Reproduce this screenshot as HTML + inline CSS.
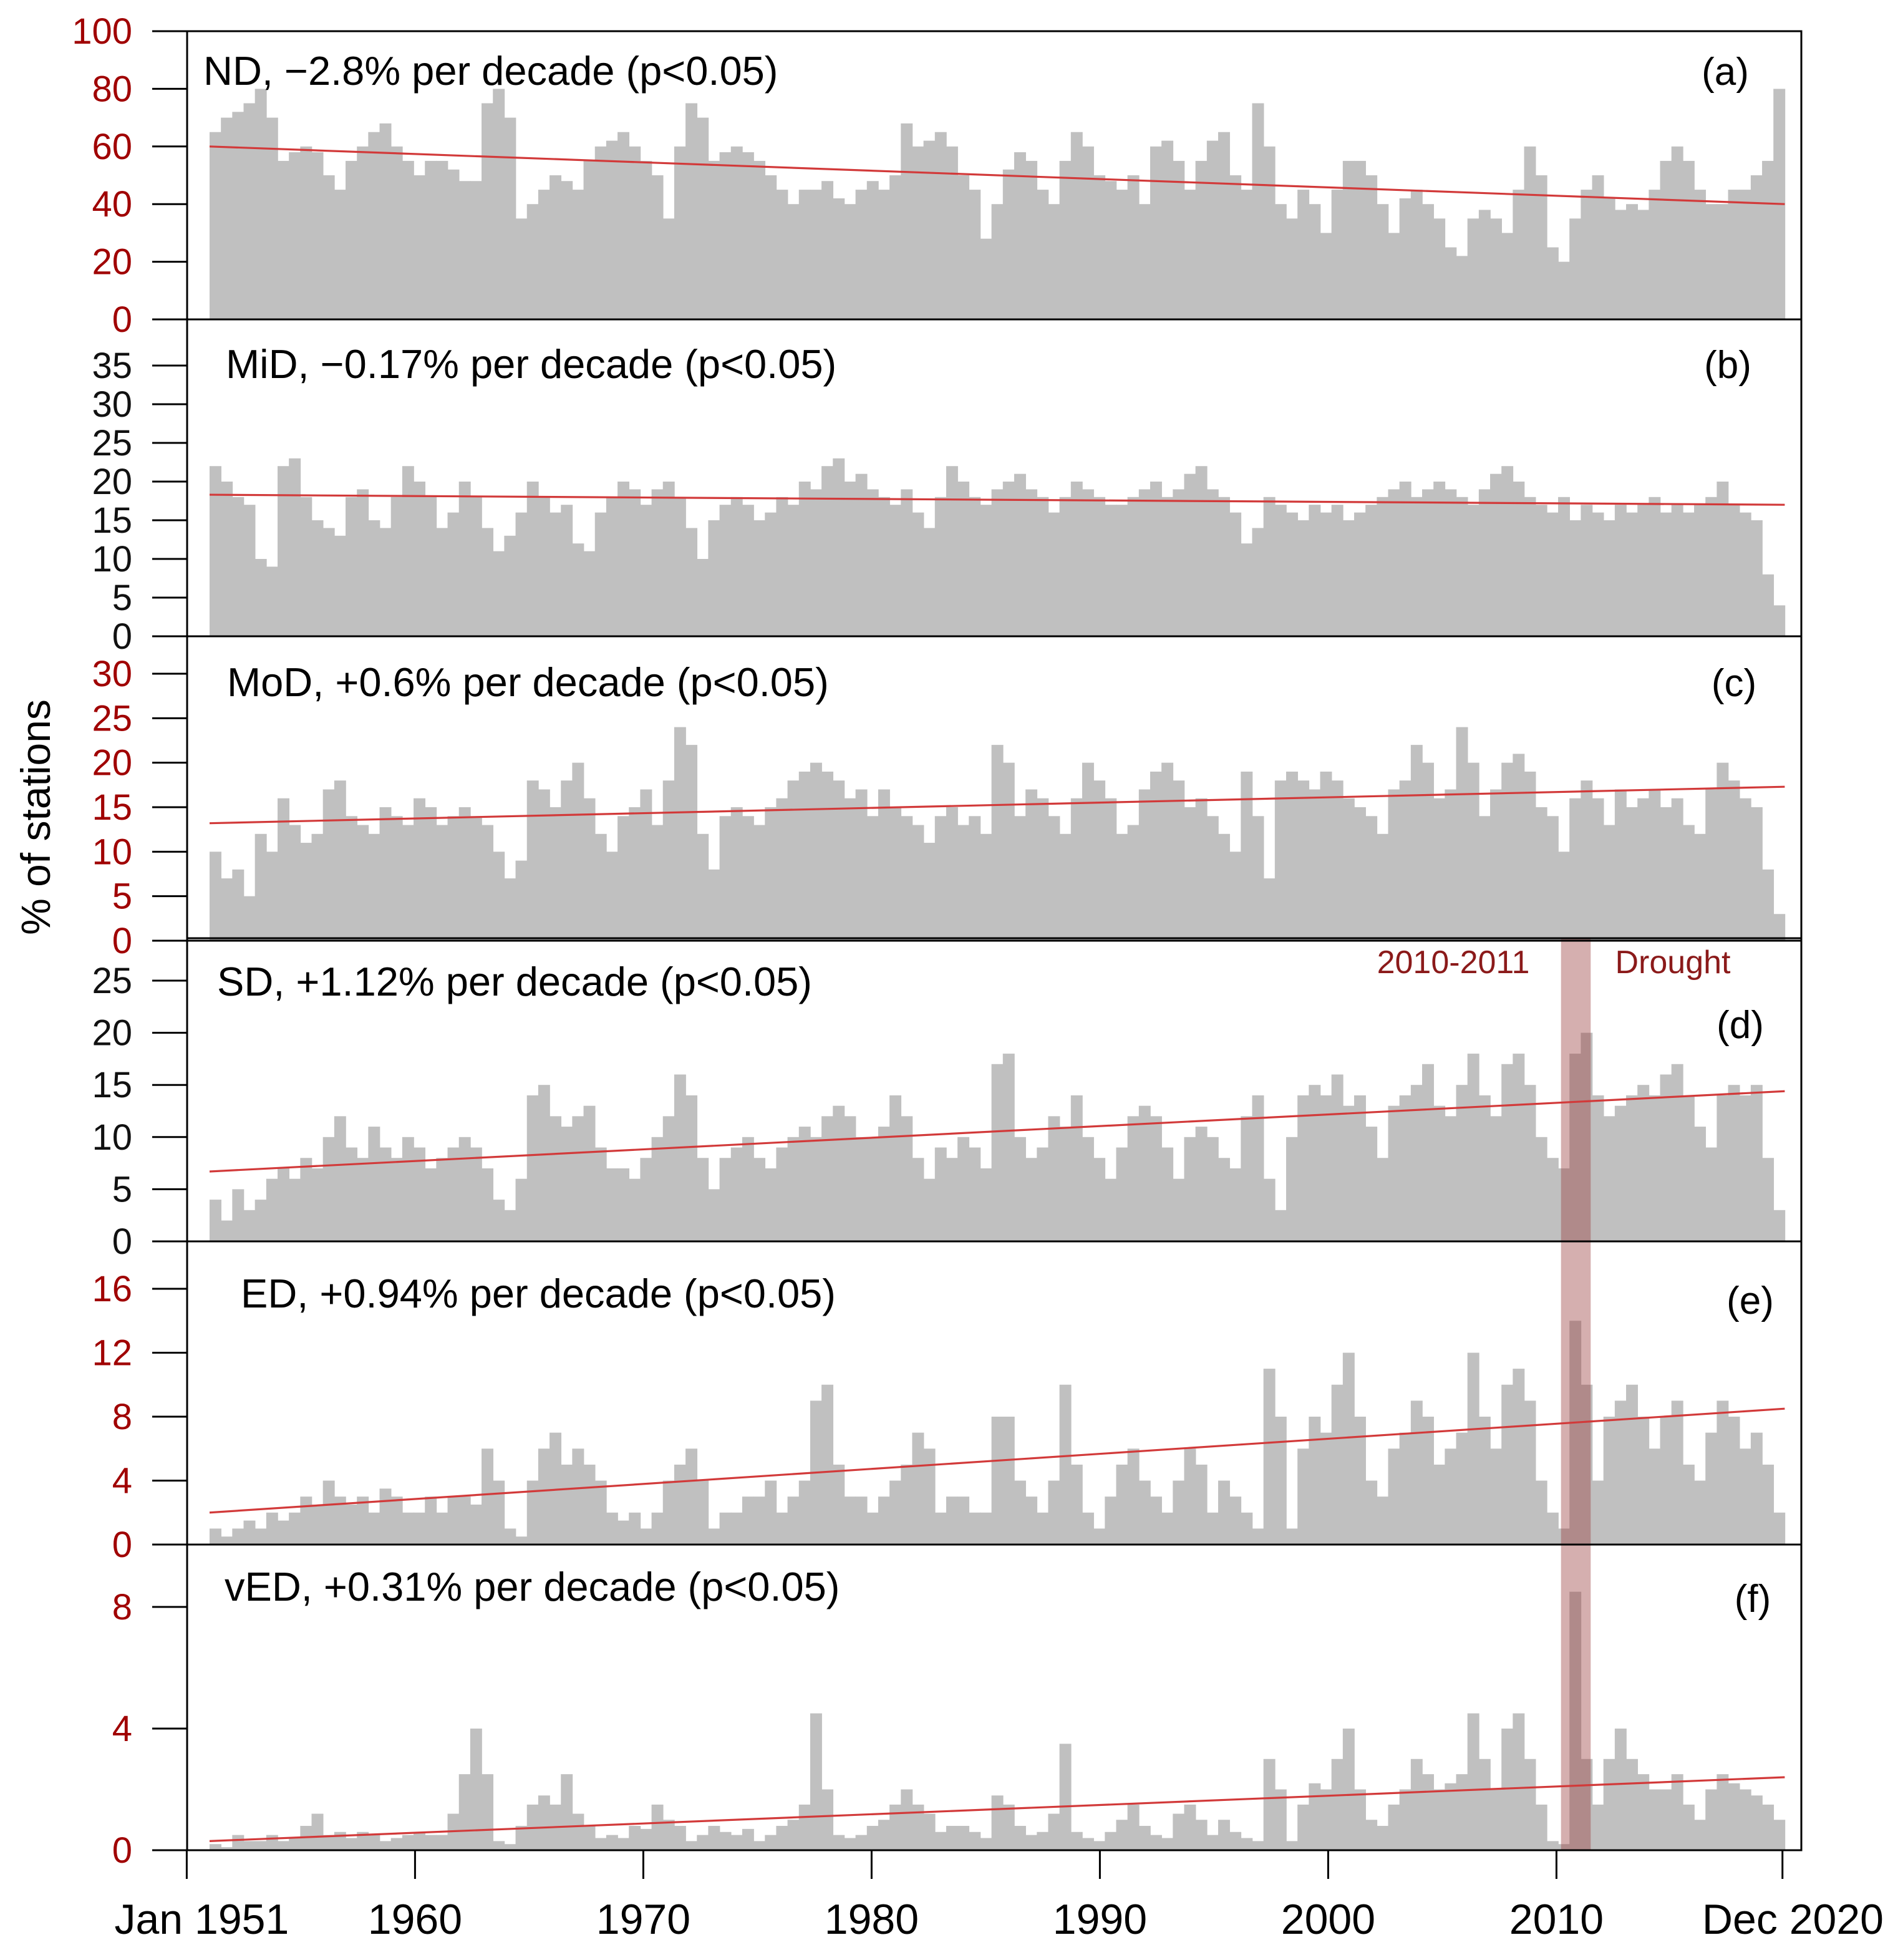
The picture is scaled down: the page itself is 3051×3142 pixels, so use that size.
<!DOCTYPE html>
<html><head><meta charset="utf-8"><style>html,body{margin:0;padding:0;background:#fff}svg{display:block}</style></head>
<body>
<svg id="chart" xmlns="http://www.w3.org/2000/svg" width="3051" height="3142" viewBox="0 0 1525.5 1571" font-family="'Liberation Sans', sans-serif"></svg>
<script>
// ---- data (half-year samples, Jan 1951 .. Dec 2020) ----
const ndValues=[65,70,72,75,80,70,55,58,60,58,50,45,55,60,65,68,60,55,50,55,55,52,48,48,75,80,70,35,40,45,50,48,45,55,60,62,65,60,55,50,35,60,75,70,55,58,60,58,55,50,45,40,45,45,48,42,40,45,48,45,50,68,60,62,65,60,50,45,28,40,52,58,55,45,40,55,65,60,50,48,45,50,40,60,62,55,45,55,62,65,50,45,75,60,40,35,45,40,30,45,55,55,50,40,30,42,45,40,35,25,22,35,38,35,30,45,60,50,25,20,35,45,50,42,38,40,38,45,55,60,55,45,40,40,45,45,50,55,80];
const midValues=[22,20,18,17,10,9,22,23,18,15,14,13,18,19,15,14,18,22,20,18,14,16,20,18,14,11,13,16,20,18,16,17,12,11,16,18,20,19,17,19,20,18,14,10,15,17,18,17,15,16,18,17,20,19,22,23,20,21,19,18,17,19,16,14,18,22,20,18,17,19,20,21,19,18,16,18,20,19,18,17,17,18,19,20,18,19,21,22,19,18,16,12,14,18,17,16,15,17,16,17,15,16,17,18,19,20,18,19,20,19,18,17,19,21,22,20,18,17,16,18,15,17,16,15,17,16,17,18,16,17,16,17,18,20,17,16,15,8,4];
const modValues=[10,7,8,5,12,10,16,13,11,12,17,18,14,13,12,15,14,13,16,15,13,14,15,14,13,10,7,9,18,17,15,18,20,16,12,10,14,15,17,13,18,24,22,12,8,14,15,14,13,15,16,18,19,20,19,18,16,17,14,17,15,14,13,11,14,15,13,14,12,22,20,14,17,16,14,12,16,20,18,16,12,13,17,19,20,18,15,16,14,12,10,19,14,7,18,19,18,17,19,18,16,15,14,12,17,18,22,20,16,17,24,20,14,17,20,21,19,15,14,10,16,18,16,13,17,15,16,17,15,16,13,12,17,20,18,16,15,8,3];
const sdValues=[4,2,5,3,4,6,7,6,8,7,10,12,9,8,11,9,8,10,9,7,8,9,10,9,7,4,3,6,14,15,12,11,12,13,9,7,7,6,8,10,12,16,14,8,5,8,9,10,8,7,9,10,11,10,12,13,12,10,10,11,14,12,8,6,9,8,10,9,7,17,18,10,8,9,12,11,14,10,8,6,9,12,13,12,9,6,10,11,10,8,7,12,14,6,3,10,14,15,14,16,13,14,11,8,13,14,15,17,13,12,15,18,14,12,17,18,15,10,8,7,18,20,14,12,13,14,15,14,16,17,14,11,9,14,15,14,15,8,3];
const edValues=[1,0.5,1,1.5,1,2,1.5,2,3,2.5,4,3,2.5,3,2,3.5,3,2,2,3,2,3,3,2.5,6,4,1,0.5,4,6,7,5,6,5,4,2,1.5,2,1,2,4,5,6,4,1,2,2,3,3,4,2,3,4,9,10,5,3,3,2,3,4,5,7,6,2,3,3,2,2,8,8,4,3,2,4,10,5,2,1,3,5,6,4,3,2,4,6,5,2,4,3,2,1,11,8,1,6,8,7,10,12,8,4,3,6,7,9,8,5,6,7,12,8,6,10,11,9,4,2,1,14,10,4,8,9,10,8,6,8,9,5,4,7,9,8,6,7,5,2];
const vedValues=[0.2,0.1,0.5,0.3,0.3,0.5,0.3,0.4,0.8,1.2,0.5,0.6,0.4,0.6,0.5,0.3,0.4,0.5,0.6,0.5,0.5,1.2,2.5,4,2.5,0.3,0.2,0.8,1.5,1.8,1.5,2.5,1.2,0.8,0.4,0.5,0.4,0.8,0.7,1.5,1.0,0.8,0.3,0.5,0.8,0.6,0.5,0.7,0.3,0.5,0.8,1.0,1.5,4.5,2,0.5,0.4,0.5,0.8,1.0,1.5,2.0,1.5,1.2,0.6,0.8,0.8,0.6,0.4,1.8,1.5,0.8,0.5,0.6,1.2,3.5,0.6,0.4,0.3,0.6,1.0,1.5,0.8,0.5,0.4,1.2,1.5,1.0,0.5,1.0,0.6,0.4,0.3,3.0,2,0.3,1.5,2.2,2.0,3.0,4.0,2.0,1.0,0.8,1.5,2.0,3.0,2.5,2.0,2.2,2.5,4.5,3.0,2.0,4.0,4.5,3.0,1.5,0.3,0.2,8.5,3.0,1.5,3.0,4.0,3.0,2.5,2.0,2.0,2.5,1.5,1.0,2.0,2.5,2.2,2.0,1.8,1.5,1.0];
const seriesValues=[ndValues,midValues,modValues,sdValues,edValues,vedValues];
const trendStart=[60,18.3,13.2,6.7,2.0,0.3];
const trendEnd=[40,17.0,17.3,14.4,8.5,2.4];
const ticksA=[0,20,40,60,80,100];
const ticksB=[0,5,10,15,20,25,30,35];
const ticksC=[0,5,10,15,20,25,30];
const ticksD=[0,5,10,15,20,25];
const ticksE=[0,4,8,12,16];
const ticksF=[0,4,8];
const yTicks=[ticksA,ticksB,ticksC,ticksD,ticksE,ticksF];
const panelTitles=["ND, \u22122.8% per decade (p<0.05)","MiD, \u22120.17% per decade (p<0.05)","MoD, +0.6% per decade (p<0.05)","SD, +1.12% per decade (p<0.05)","ED, +0.94% per decade (p<0.05)","vED, +0.31% per decade (p<0.05)"];
const panelLetters=["(a)","(b)","(c)","(d)","(e)","(f)"];
const xTickYears=[1950,1960,1970,1980,1990,2000,2010,2019.9];
const xTickLabels=["Jan 1951","1960","1970","1980","1990","2000","2010","Dec 2020"];
const droughtStart=2010.2, droughtEnd=2011.5;

// ---- layout ----
const NS="http://www.w3.org/2000/svg";
const svg=document.getElementById('chart');
const L=150,R=1444;
const panels=[
 {top:25,base:256,topTickY:25,titleX:163,titleY:68,letX:1383,letY:68,red:true},
 {top:256,base:510,topTickY:293,titleX:181,titleY:303,letX:1385,letY:303,red:false},
 {top:510,base:754,topTickY:540,titleX:182,titleY:558,letX:1390,letY:558,red:true},
 {top:752,base:995,topTickY:786,titleX:174,titleY:798,letX:1395,letY:832,red:false},
 {top:995,base:1238,topTickY:1033,titleX:193,titleY:1048,letX:1403,letY:1053,red:true},
 {top:1238,base:1483,topTickY:1288,titleX:180,titleY:1283,letX:1405,letY:1292,red:true}
];
const X0=168, PXY=18.3;
function xScale(year){return X0+(year-1951)*PXY;}
function yScale(p,v){const t=yTicks[p];const mx=t[t.length-1];return p_base(p)-v*(p_base(p)-panels[p].topTickY)/mx;}
function p_base(p){return panels[p].base;}
function mk(tag,attrs){const e=document.createElementNS(NS,tag);for(const k in attrs)e.setAttribute(k,attrs[k]);return e;}

const endYear=2020.0;
seriesValues.forEach((vals,p)=>{
  const g=mk('g',{});
  
  
  const step=(endYear-1951)/vals.length;
  vals.forEach((v,i)=>{
    const x1=xScale(1951+i*step), x2=xScale(1951+(i+1)*step);
    const y=yScale(p,v);
    const r=mk('rect',{x:x1,y:y,width:(x2-x1)+0.4,height:p_base(p)-y,fill:'#c0c0c0'});
    
    
    g.appendChild(r);
  });
  svg.appendChild(g);
});

const band=mk('rect',{x:xScale(droughtStart),y:752,width:xScale(droughtEnd)-xScale(droughtStart),height:1483-752,fill:'#9a4040','fill-opacity':0.42});


svg.appendChild(band);

trendStart.forEach((s,p)=>{
  const ln=mk('line',{x1:xScale(1951),y1:yScale(p,s),x2:xScale(endYear),y2:yScale(p,trendEnd[p]),stroke:'#d23a3a','stroke-width':1.6});
  
  
  svg.appendChild(ln);
});

panels.forEach((pn,p)=>{
  const box=mk('rect',{x:L,y:pn.top,width:R-L,height:pn.base-pn.top,fill:'none',stroke:'#000','stroke-width':1.5});
  
  
  svg.appendChild(box);
  yTicks[p].forEach(t=>{
    const y=yScale(p,t);
    const tk=mk('line',{x1:122,y1:y,x2:L,y2:y,stroke:'#000','stroke-width':1.5});
    
    
    svg.appendChild(tk);
    const tx=mk('text',{x:106,y:y+10,'text-anchor':'end','font-size':29,fill:pn.red?'#a00000':'#111'});
    tx.textContent=t;
    
    
    svg.appendChild(tx);
  });
  const ti=mk('text',{x:pn.titleX,y:pn.titleY,'font-size':32.5,fill:'#000'});
  ti.textContent=panelTitles[p];
  
  
  svg.appendChild(ti);
  const le=mk('text',{x:pn.letX,y:pn.letY,'font-size':31,'text-anchor':'middle',fill:'#000'});
  le.textContent=panelLetters[p];
  
  
  svg.appendChild(le);
});

xTickYears.forEach((yr,i)=>{
  const x=xScale(yr);
  const tk=mk('line',{x1:x,y1:1483,x2:x,y2:1506,stroke:'#000','stroke-width':1.5});
  
  
  svg.appendChild(tk);
  const last=(i===xTickLabels.length-1);
  const tx=mk('text',{x:last?1510:x+(i===0?12:0),y:1550,'text-anchor':last?'end':'middle','font-size':34,fill:'#000'});
  tx.textContent=xTickLabels[i];
  
  
  svg.appendChild(tx);
});

const yt=mk('text',{x:0,y:0,transform:'translate(40,655) rotate(-90)','text-anchor':'middle','font-size':33,fill:'#000'});
yt.textContent='% of stations';


svg.appendChild(yt);

const d1=mk('text',{x:1165,y:780,'text-anchor':'middle','font-size':26,fill:'#8b1a1a'});
d1.textContent='2010-2011';


svg.appendChild(d1);
const d2=mk('text',{x:1341,y:780,'text-anchor':'middle','font-size':26,fill:'#8b1a1a'});
d2.textContent='Drought';


svg.appendChild(d2);
</script>
</body></html>
